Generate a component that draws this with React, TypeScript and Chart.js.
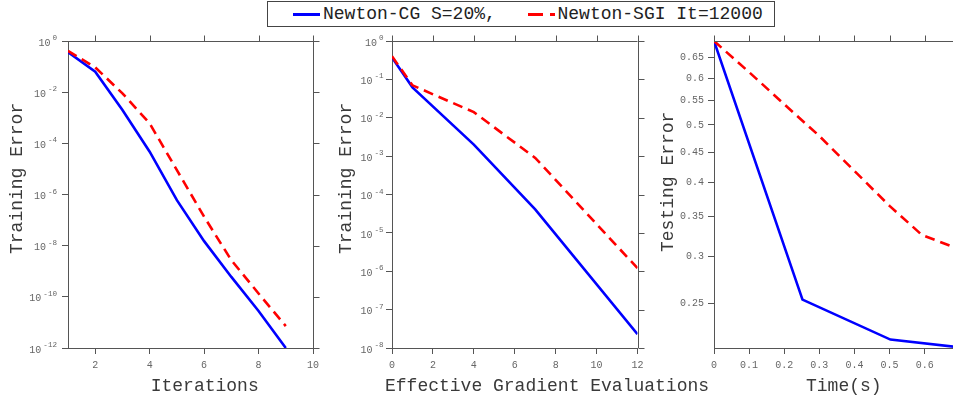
import React, { useEffect, useRef } from "react";
import { Chart, registerables } from "chart.js";

Chart.register(...registerables);

const FONT = "'Liberation Mono', 'Courier New', monospace";
const BLUE = "#0000ff";
const RED = "#ff0000";
const AXIS = "#555555";
const TICK_TEXT = "#666666";
const TITLE_TEXT = "#3a3a3a";

// ---------- Panel 1: Iterations ----------
const iterations = [1, 2, 3, 4, 5, 6, 7, 8, 9];
const iterCG = [0.37, 0.063, 2.0e-3, 4.7e-5, 6.0e-7, 1.5e-8, 6.0e-10, 2.8e-11, 1.0e-12];
const iterSGI = [0.41, 0.093, 9.0e-3, 6.0e-4, 9.0e-6, 1.35e-7, 2.7e-9, 1.35e-10, 7.2e-12];
const iterXTicks = [2, 4, 6, 8, 10];
const iterYTicks = [1, 1e-2, 1e-4, 1e-6, 1e-8, 1e-10, 1e-12];

// ---------- Panel 2: Effective Gradient Evaluations ----------
const evalCGX = [0, 1, 4, 7, 12];
const evalCG = [0.37, 0.062, 2.0e-3, 4.1e-5, 2.3e-8];
const evalSGIX = [0, 1, 4, 7, 12];
const evalSGI = [0.4, 0.07, 0.014, 9.0e-4, 1.2e-6];
const evalXTicks = [0, 2, 4, 6, 8, 10, 12];
const evalYTicks = [1, 1e-1, 1e-2, 1e-3, 1e-4, 1e-5, 1e-6, 1e-7, 1e-8];

// ---------- Panel 3: Time(s) ----------
const timeCGX = [0, 0.252, 0.5025, 0.7];
const timeCG = [0.6931, 0.2535, 0.217, 0.2105];
const timeSGIX = [0, 0.1, 0.2, 0.3, 0.4, 0.5, 0.592, 0.7];
const timeSGI = [0.6931, 0.614, 0.542, 0.479, 0.418, 0.365, 0.326, 0.308];
const timeXTicks = [0, 0.1, 0.2, 0.3, 0.4, 0.5, 0.6];
const timeYTicks = [0.25, 0.3, 0.35, 0.4, 0.45, 0.5, 0.55, 0.6, 0.65];

const legendLabels = ["Newton-CG S=20%,", "Newton-SGI It=12000"];

const decLabel = (v: number) => String(+Number(v).toFixed(2));
const expOf = (v: number) => String(Math.round(Math.log10(v)));

const pts = (xs: number[], ys: number[]) => xs.map((x, i) => ({ x, y: ys[i] }));

type PanelCfg = {
  left: number;
  width: number;
  yAxisWidth: number;
  padRight: number;
  padTop: number;
  xAxisHeight: number;
  xMin: number;
  xMax: number;
  yMin: number;
  yMax: number;
  xTicks: number[];
  yTicks: number[];
  logY: boolean;
  labelGap: number;
  cg: { x: number; y: number }[];
  sgi: { x: number; y: number }[];
  xTitle: string;
  xTitlePos: [number, number];
  yTitle: string;
  yTitlePos: [number, number];
};

function Panel({ cfg }: { cfg: PanelCfg }) {
  const ref = useRef<HTMLCanvasElement | null>(null);
  useEffect(() => {
    if (!ref.current) return;
    const framePlugin = {
      id: "frameAndTitles",
      afterDraw(chart: any) {
        const ctx = chart.ctx;
        const a = chart.chartArea;
        const xs = chart.scales.x;
        const ys = chart.scales.y;
        const al = (v: number) => Math.round(v) + 0.5;
        ctx.save();
        ctx.strokeStyle = AXIS;
        ctx.lineWidth = 1;
        ctx.beginPath();
        ctx.moveTo(a.left, al(a.top));
        ctx.lineTo(a.right, al(a.top));
        ctx.moveTo(al(a.right), a.top);
        ctx.lineTo(al(a.right), a.bottom);
        cfg.xTicks.forEach((v) => {
          const px = al(xs.getPixelForValue(v));
          ctx.moveTo(px, al(a.top));
          ctx.lineTo(px, al(a.top) - 6);
        });
        cfg.yTicks.forEach((v) => {
          const py = al(ys.getPixelForValue(v));
          ctx.moveTo(al(a.right), py);
          ctx.lineTo(al(a.right) + 6, py);
        });
        ctx.stroke();

        // power-of-ten tick labels with raised exponents
        if (cfg.logY) {
          ctx.fillStyle = TICK_TEXT;
          ctx.textBaseline = "middle";
          ctx.textAlign = "left";
          const right = a.left - 7 - cfg.labelGap;
          cfg.yTicks.forEach((v) => {
            const py = ys.getPixelForValue(v);
            const ex = expOf(v);
            ctx.font = `7.6px ${FONT}`;
            const we = ctx.measureText(ex).width;
            ctx.fillText(ex, right - we, py - 3);
            ctx.font = `10px ${FONT}`;
            const wb = ctx.measureText("10").width;
            ctx.fillText("10", right - we - 2 - wb, py + 2);
          });
        }

        ctx.fillStyle = TITLE_TEXT;
        ctx.font = `18px ${FONT}`;
        ctx.textAlign = "left";
        ctx.textBaseline = "middle";
        ctx.fillText(cfg.xTitle, cfg.xTitlePos[0], cfg.xTitlePos[1]);
        ctx.translate(cfg.yTitlePos[0], cfg.yTitlePos[1]);
        ctx.rotate(-Math.PI / 2);
        ctx.fillText(cfg.yTitle, 0, 0);
        ctx.restore();
      },
    };

    const chart = new Chart(ref.current, {
      type: "line",
      data: {
        datasets: [
          {
            label: legendLabels[0],
            data: cfg.cg,
            borderColor: BLUE,
            backgroundColor: BLUE,
            borderWidth: 2.6,
            pointRadius: 0,
            tension: 0,
            fill: false,
            order: 1,
          },
          {
            label: legendLabels[1],
            data: cfg.sgi,
            borderColor: RED,
            backgroundColor: RED,
            borderWidth: 2.6,
            borderDash: [10, 6],
            pointRadius: 0,
            tension: 0,
            fill: false,
            order: 0,
          },
        ],
      },
      options: {
        responsive: false,
        maintainAspectRatio: false,
        animation: false,
        devicePixelRatio: 1,
        layout: { padding: { left: 0, right: cfg.padRight, top: cfg.padTop, bottom: 0 } },
        plugins: { legend: { display: false }, tooltip: { enabled: false }, title: { display: false } },
        scales: {
          x: {
            type: "linear",
            min: cfg.xMin,
            max: cfg.xMax,
            afterBuildTicks: (s: any) => {
              s.ticks = cfg.xTicks.map((v) => ({ value: v }));
            },
            afterFit: (s: any) => {
              s.height = cfg.xAxisHeight;
            },
            ticks: {
              autoSkip: false,
              maxRotation: 0,
              minRotation: 0,
              padding: 5,
              color: TICK_TEXT,
              font: { family: FONT, size: 10 },
              callback: (v: any) => decLabel(Number(v)),
            },
            grid: { display: true, drawOnChartArea: false, drawTicks: true, tickLength: 6, color: AXIS },
            border: { display: true, color: AXIS, width: 1 },
          },
          y: {
            type: "logarithmic",
            min: cfg.yMin,
            max: cfg.yMax,
            afterBuildTicks: (s: any) => {
              s.ticks = cfg.yTicks.map((v) => ({ value: v }));
            },
            afterFit: (s: any) => {
              s.width = cfg.yAxisWidth;
            },
            ticks: {
              display: !cfg.logY,
              autoSkip: false,
              padding: 4,
              color: TICK_TEXT,
              font: { family: FONT, size: 10 },
              callback: (v: any) => decLabel(Number(v)),
            },
            grid: { display: true, drawOnChartArea: false, drawTicks: true, tickLength: 6, color: AXIS },
            border: { display: true, color: AXIS, width: 1 },
          },
        },
      },
      plugins: [framePlugin],
    } as any);
    return () => chart.destroy();
  }, [cfg]);

  return (
    <canvas
      ref={ref}
      width={cfg.width}
      height={401}
      style={{ position: "absolute", left: cfg.left, top: 0, width: cfg.width, height: 401 }}
    />
  );
}

const panels: PanelCfg[] = [
  {
    left: 0,
    width: 330,
    yAxisWidth: 68,
    padRight: 17,
    padTop: 41,
    xAxisHeight: 53,
    xMin: 1,
    xMax: 10,
    yMin: 1e-12,
    yMax: 1,
    xTicks: iterXTicks,
    yTicks: iterYTicks,
    logY: true,
    labelGap: 4,
    cg: pts(iterations, iterCG),
    sgi: pts(iterations, iterSGI),
    xTitle: "Iterations",
    xTitlePos: [150.7, 386.5],
    yTitle: "Training Error",
    yTitlePos: [17, 254],
  },
  {
    left: 330,
    width: 400,
    yAxisWidth: 62,
    padRight: 92.5,
    padTop: 41,
    xAxisHeight: 53,
    xMin: 0,
    xMax: 12,
    yMin: 1e-8,
    yMax: 1,
    xTicks: evalXTicks,
    yTicks: evalYTicks,
    logY: true,
    labelGap: 1.5,
    cg: pts(evalCGX, evalCG),
    sgi: pts(evalSGIX, evalSGI),
    xTitle: "Effective Gradient Evaluations",
    xTitlePos: [55, 386.5],
    yTitle: "Training Error",
    yTitlePos: [16, 254],
  },
  {
    left: 650,
    width: 320,
    yAxisWidth: 64,
    padRight: 10.2,
    padTop: 41,
    xAxisHeight: 53,
    xMin: 0,
    xMax: 0.7,
    yMin: 0.2105,
    yMax: 0.6931,
    xTicks: timeXTicks,
    yTicks: timeYTicks,
    logY: false,
    labelGap: 4,
    cg: pts(timeCGX, timeCG),
    sgi: pts(timeSGIX, timeSGI),
    xTitle: "Time(s)",
    xTitlePos: [156, 386.5],
    yTitle: "Testing Error",
    yTitlePos: [18.3, 252],
  },
];

export default function App() {
  const textStyle: React.CSSProperties = {
    position: "absolute",
    top: 5,
    fontFamily: FONT,
    fontSize: 18,
    lineHeight: "18px",
    color: "#222",
    whiteSpace: "pre",
  };
  return (
    <div
      style={{
        position: "fixed",
        left: 0,
        top: 0,
        width: 953,
        height: 401,
        overflow: "hidden",
        background: "#fff",
      }}
    >
      {panels.map((p, i) => (
        <Panel key={i} cfg={p} />
      ))}
      <div
        style={{
          position: "absolute",
          left: 267,
          top: 1,
          width: 508,
          height: 26,
          boxSizing: "border-box",
          border: "1px solid #444",
          background: "#fff",
        }}
      />
      <div style={{ position: "absolute", left: 293, top: 13, width: 27, height: 2.6, background: BLUE }} />
      <span style={{ ...textStyle, left: 323 }}>{legendLabels[0]}</span>
      <div style={{ position: "absolute", left: 528, top: 13, width: 15, height: 2.6, background: RED }} />
      <div style={{ position: "absolute", left: 550, top: 13, width: 5, height: 2.6, background: RED }} />
      <span style={{ ...textStyle, left: 557.5 }}>{legendLabels[1]}</span>
    </div>
  );
}
